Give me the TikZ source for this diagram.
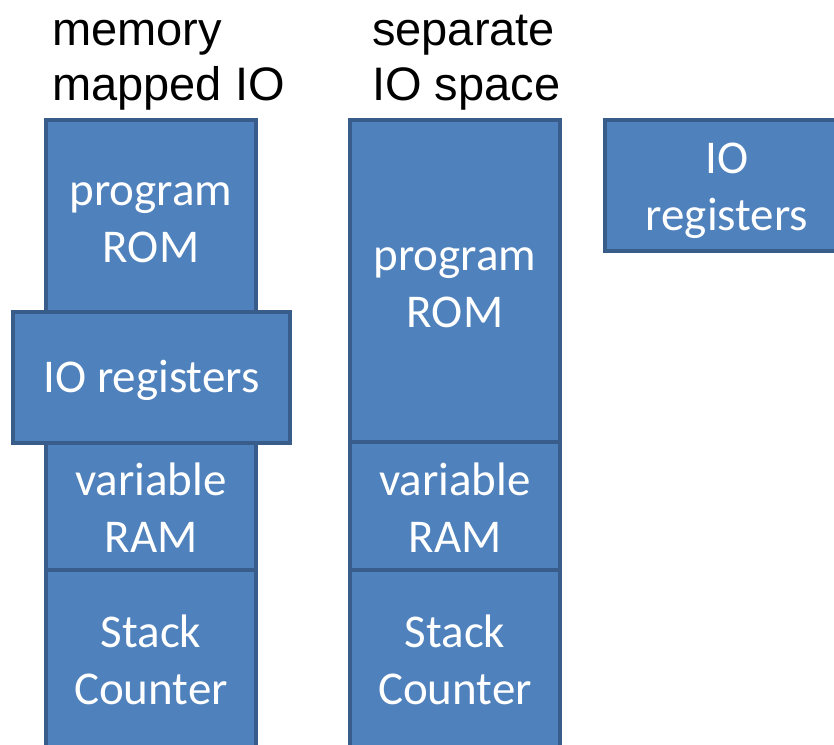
\documentclass[tikz,border=0pt]{standalone}
\usepackage{fontspec}
\setmainfont{Carlito}
\newfontfamily\titlefont{Liberation Sans}
\definecolor{blkfill}{HTML}{4F81BD}
\definecolor{blkline}{HTML}{385D8A}
\begin{document}
\begin{tikzpicture}[x=1pt,y=-1pt,
  blk/.style={draw=blkline, fill=blkfill, line width=3.5pt, inner sep=0pt},
  txt/.style={text=white, inner sep=0pt, align=center,
    font=\fontsize{47}{57}\selectfont},
  heading/.style={anchor=base west, inner sep=0pt,
    font=\titlefont\fontsize{47}{55}\selectfont}]
\useasboundingbox (0,0) rectangle (834,744);
% memory mapped IO
\node[heading] (hmm1) at (52,45) {memory};
\node[heading] (hmm2) at (52,100) {mapped IO};
\node[blk, minimum width=210pt, minimum height=194pt,
  label={[txt,yshift=-6pt]center:{program\\ROM}}] (mrom) at (151,217) {};
\node[blk, minimum width=210pt, minimum height=127pt,
  label={[txt,yshift=-1pt]center:{variable\\RAM}}] (mram) at (151,506.5) {};
\node[blk, minimum width=210pt, minimum height=190pt,
  label={[txt,yshift=5pt]center:{Stack\\Counter}}] (mstk) at (151,665) {};
\node[blk, minimum width=277pt, minimum height=131pt,
  label={[txt,yshift=-3pt]center:{IO registers}}] (mio) at (151.5,377.5) {};
% separate IO space
\node[heading] (hsep1) at (372,45) {separate};
\node[heading] (hsep2) at (372,100) {IO space};
\node[blk, minimum width=210pt, minimum height=322pt,
  label={[txt,yshift=-7pt]center:{program\\ROM}}] (srom) at (455,281) {};
\node[blk, minimum width=210pt, minimum height=128pt,
  label={[txt,yshift=-2pt]center:{variable\\RAM}}] (sram) at (455,506) {};
\node[blk, minimum width=210pt, minimum height=190pt,
  label={[txt,yshift=5pt]center:{Stack\\Counter}}] (sstk) at (455,665) {};
\node[blk, minimum width=244pt, minimum height=131pt,
  label={[txt,yshift=-5pt]center:{IO\\registers}}] (sio) at (727,185.5) {};
\end{tikzpicture}
\end{document}
